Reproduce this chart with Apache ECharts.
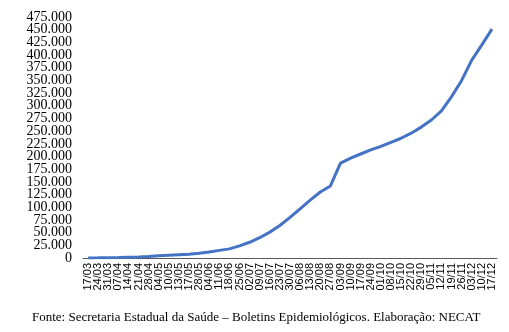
<!DOCTYPE html>
<html>
<head>
<meta charset="utf-8">
<script src="https://cdn.jsdelivr.net/npm/echarts@6/dist/echarts.min.js"></script>
<style>
html,body{margin:0;padding:0;background:#fff;}
#chart{width:509px;height:332px;}
</style>
</head>
<body>
<div id="chart"></div>
<script>
const categories = ["17/03","24/03","31/03","07/04","14/04","21/04","28/04","04/05","10/05","13/05","17/05","28/05","04/06","11/06","18/06","25/06","02/07","09/07","16/07","23/07","30/07","06/08","13/08","20/08","27/08","03/09","10/09","17/09","24/09","01/10","08/10","15/10","22/10","29/10","05/11","12/11","19/11","26/11","03/12","10/12","17/12"];
const casos = [100,300,600,1000,1500,2000,3000,4500,5500,6500,7500,9500,12000,15000,18000,24000,31000,40000,51000,64000,80000,97000,114000,130000,142000,187000,197000,205000,213000,220000,228000,236000,246000,258000,272000,290000,318000,350000,390000,420000,451000];
const yTicks = {min:0, max:475000, interval:25000};
const footer = "Fonte: Secretaria Estadual da Saúde – Boletins Epidemiológicos. Elaboração: NECAT";

const fmt = v => v===0 ? '0' : v.toString().replace(/\B(?=(\d{3})+(?!\d))/g,'.');
const labelStyle = {margin:11, fontFamily:'Liberation Serif', fontSize:14, color:'#000', formatter:fmt};

const chart = echarts.init(document.getElementById('chart'), null, {renderer:'canvas'});
chart.setOption({
  animation:false,
  backgroundColor:'#ffffff',
  grid:{left:83, right:12, top:17, bottom:74, containLabel:false},
  title:{
    text: footer, left:27, top:306,
    textStyle:{fontFamily:'Liberation Serif', fontSize:13, fontWeight:'normal', color:'#000'}
  },
  xAxis:{
    type:'category', data:categories, boundaryGap:true,
    axisLine:{lineStyle:{color:'#595959', width:1}},
    axisTick:{show:false},
    axisLabel:{rotate:90, interval:0, margin:5, fontFamily:'Liberation Sans', fontSize:11, color:'#000'},
    splitLine:{show:false}
  },
  yAxis:[{
    type:'value', min:yTicks.min, max:yTicks.max, interval:yTicks.interval, position:'left',
    axisLine:{show:false}, axisTick:{show:false}, splitLine:{show:false},
    axisLabel:Object.assign({showMinLabel:false, showMaxLabel:false}, labelStyle)
  },{
    type:'value', min:yTicks.min, max:yTicks.max, interval:yTicks.max, position:'left',
    axisLine:{show:false}, axisTick:{show:false}, splitLine:{show:false},
    axisLabel:Object.assign({showMinLabel:true, showMaxLabel:true}, labelStyle)
  }],
  series:[{
    type:'line', data:casos, symbol:'none', smooth:false, yAxisIndex:0,
    lineStyle:{color:'#4472C4', width:3}
  }]
});
</script>
</body>
</html>
